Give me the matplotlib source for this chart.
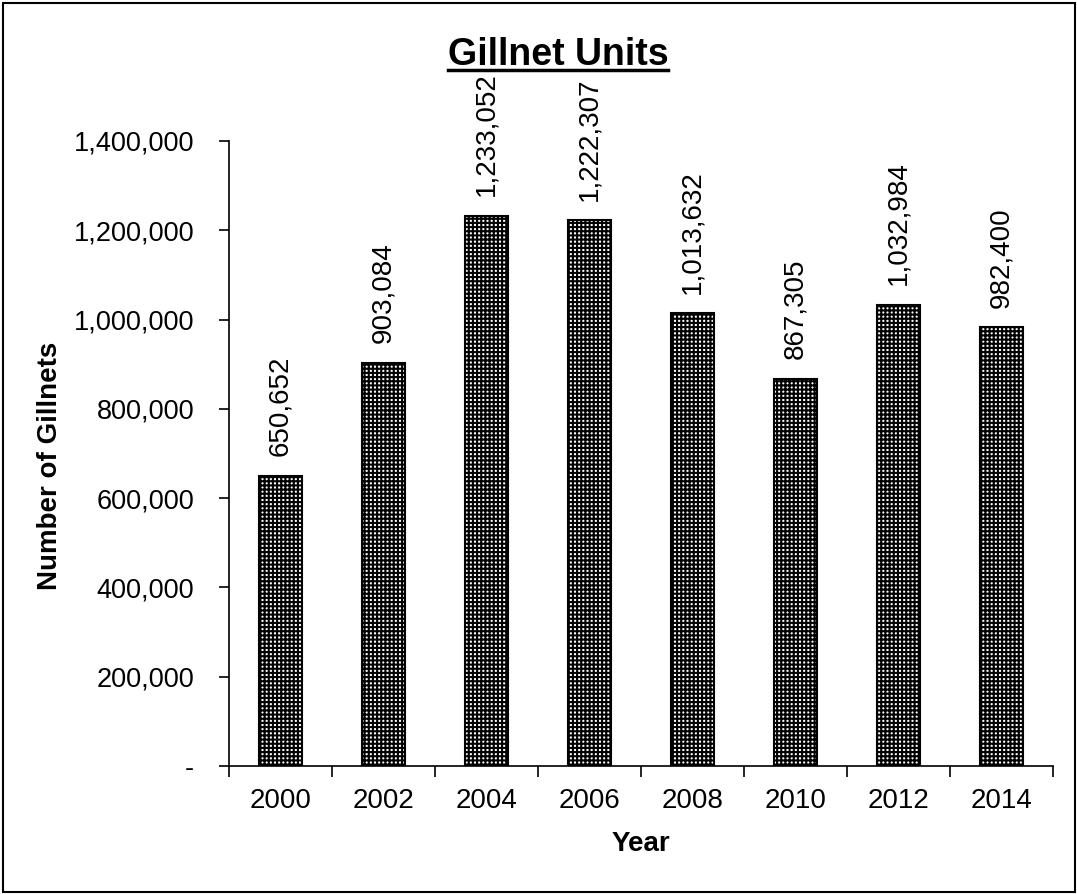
import matplotlib
matplotlib.use("Agg")
import matplotlib.pyplot as plt
from matplotlib.patches import Rectangle
from matplotlib.lines import Line2D
from matplotlib.ticker import FuncFormatter

years = ["2000", "2002", "2004", "2006", "2008", "2010", "2012", "2014"]
gillnets = [650652, 903084, 1233052, 1222307, 1013632, 867305, 1032984, 982400]

plt.rcParams['font.family'] = ['Liberation Sans', 'DejaVu Sans']
plt.rcParams['hatch.linewidth'] = 1.5

fig = plt.figure(figsize=(10.77, 8.94), dpi=100)
ax = fig.add_axes([229 / 1077, 128 / 894, 824 / 1077, 625 / 894])

x = range(len(years))
ax.bar(x, gillnets, width=0.42, facecolor='white', edgecolor='black',
       linewidth=1.5, hatch='++++')

# value labels above the bars
for xi, v in zip(x, gillnets):
    ax.annotate(f'{v:,}', xy=(xi, v), xytext=(0, 14), textcoords='offset points',
                rotation=90, ha='center', va='bottom', fontsize=20)

ax.set_xlim(-0.5, len(years) - 0.5)
ax.set_ylim(0, 1400000)
ax.set_yticks(range(0, 1400001, 200000))
ax.yaxis.set_major_formatter(FuncFormatter(lambda v, p: '-' if v == 0 else f'{v:,.0f}'))
ax.set_xticks(list(x))
ax.set_xticklabels(years)
ax.set_xticks([i - 0.5 for i in range(len(years) + 1)], minor=True)
ax.tick_params(axis='x', which='major', length=0, pad=16, labelsize=20)
ax.tick_params(axis='x', which='minor', length=8, width=1.2, direction='out')
ax.tick_params(axis='y', length=7, width=1.2, direction='out', pad=18, labelsize=19.5)

for s in ['top', 'right']:
    ax.spines[s].set_visible(False)
for s in ['left', 'bottom']:
    ax.spines[s].set_linewidth(1.2)

ax.set_xlabel('Year', fontsize=20, fontweight='bold', labelpad=12)
ax.set_ylabel('Number of Gillnets', fontsize=20, fontweight='bold')
ax.yaxis.set_label_coords(-0.2015, 0.48)

# title with underline
title = fig.text(558 / 1077, 1 - 55 / 894, 'Gillnet Units', ha='center', va='center',
                 fontsize=27, fontweight='bold')
fig.canvas.draw()
bb = title.get_window_extent().transformed(fig.transFigure.inverted())
fig.add_artist(Line2D([bb.x0, bb.x1], [bb.y0 + 0.003, bb.y0 + 0.003],
                      transform=fig.transFigure, color='black', linewidth=2.5))

# outer frame
fig.add_artist(Rectangle((3 / 1077, 2 / 894), 1072 / 1077, 889 / 894, transform=fig.transFigure,
                         fill=False, edgecolor='black', linewidth=1.5))

fig.savefig('out.png', dpi=100)
